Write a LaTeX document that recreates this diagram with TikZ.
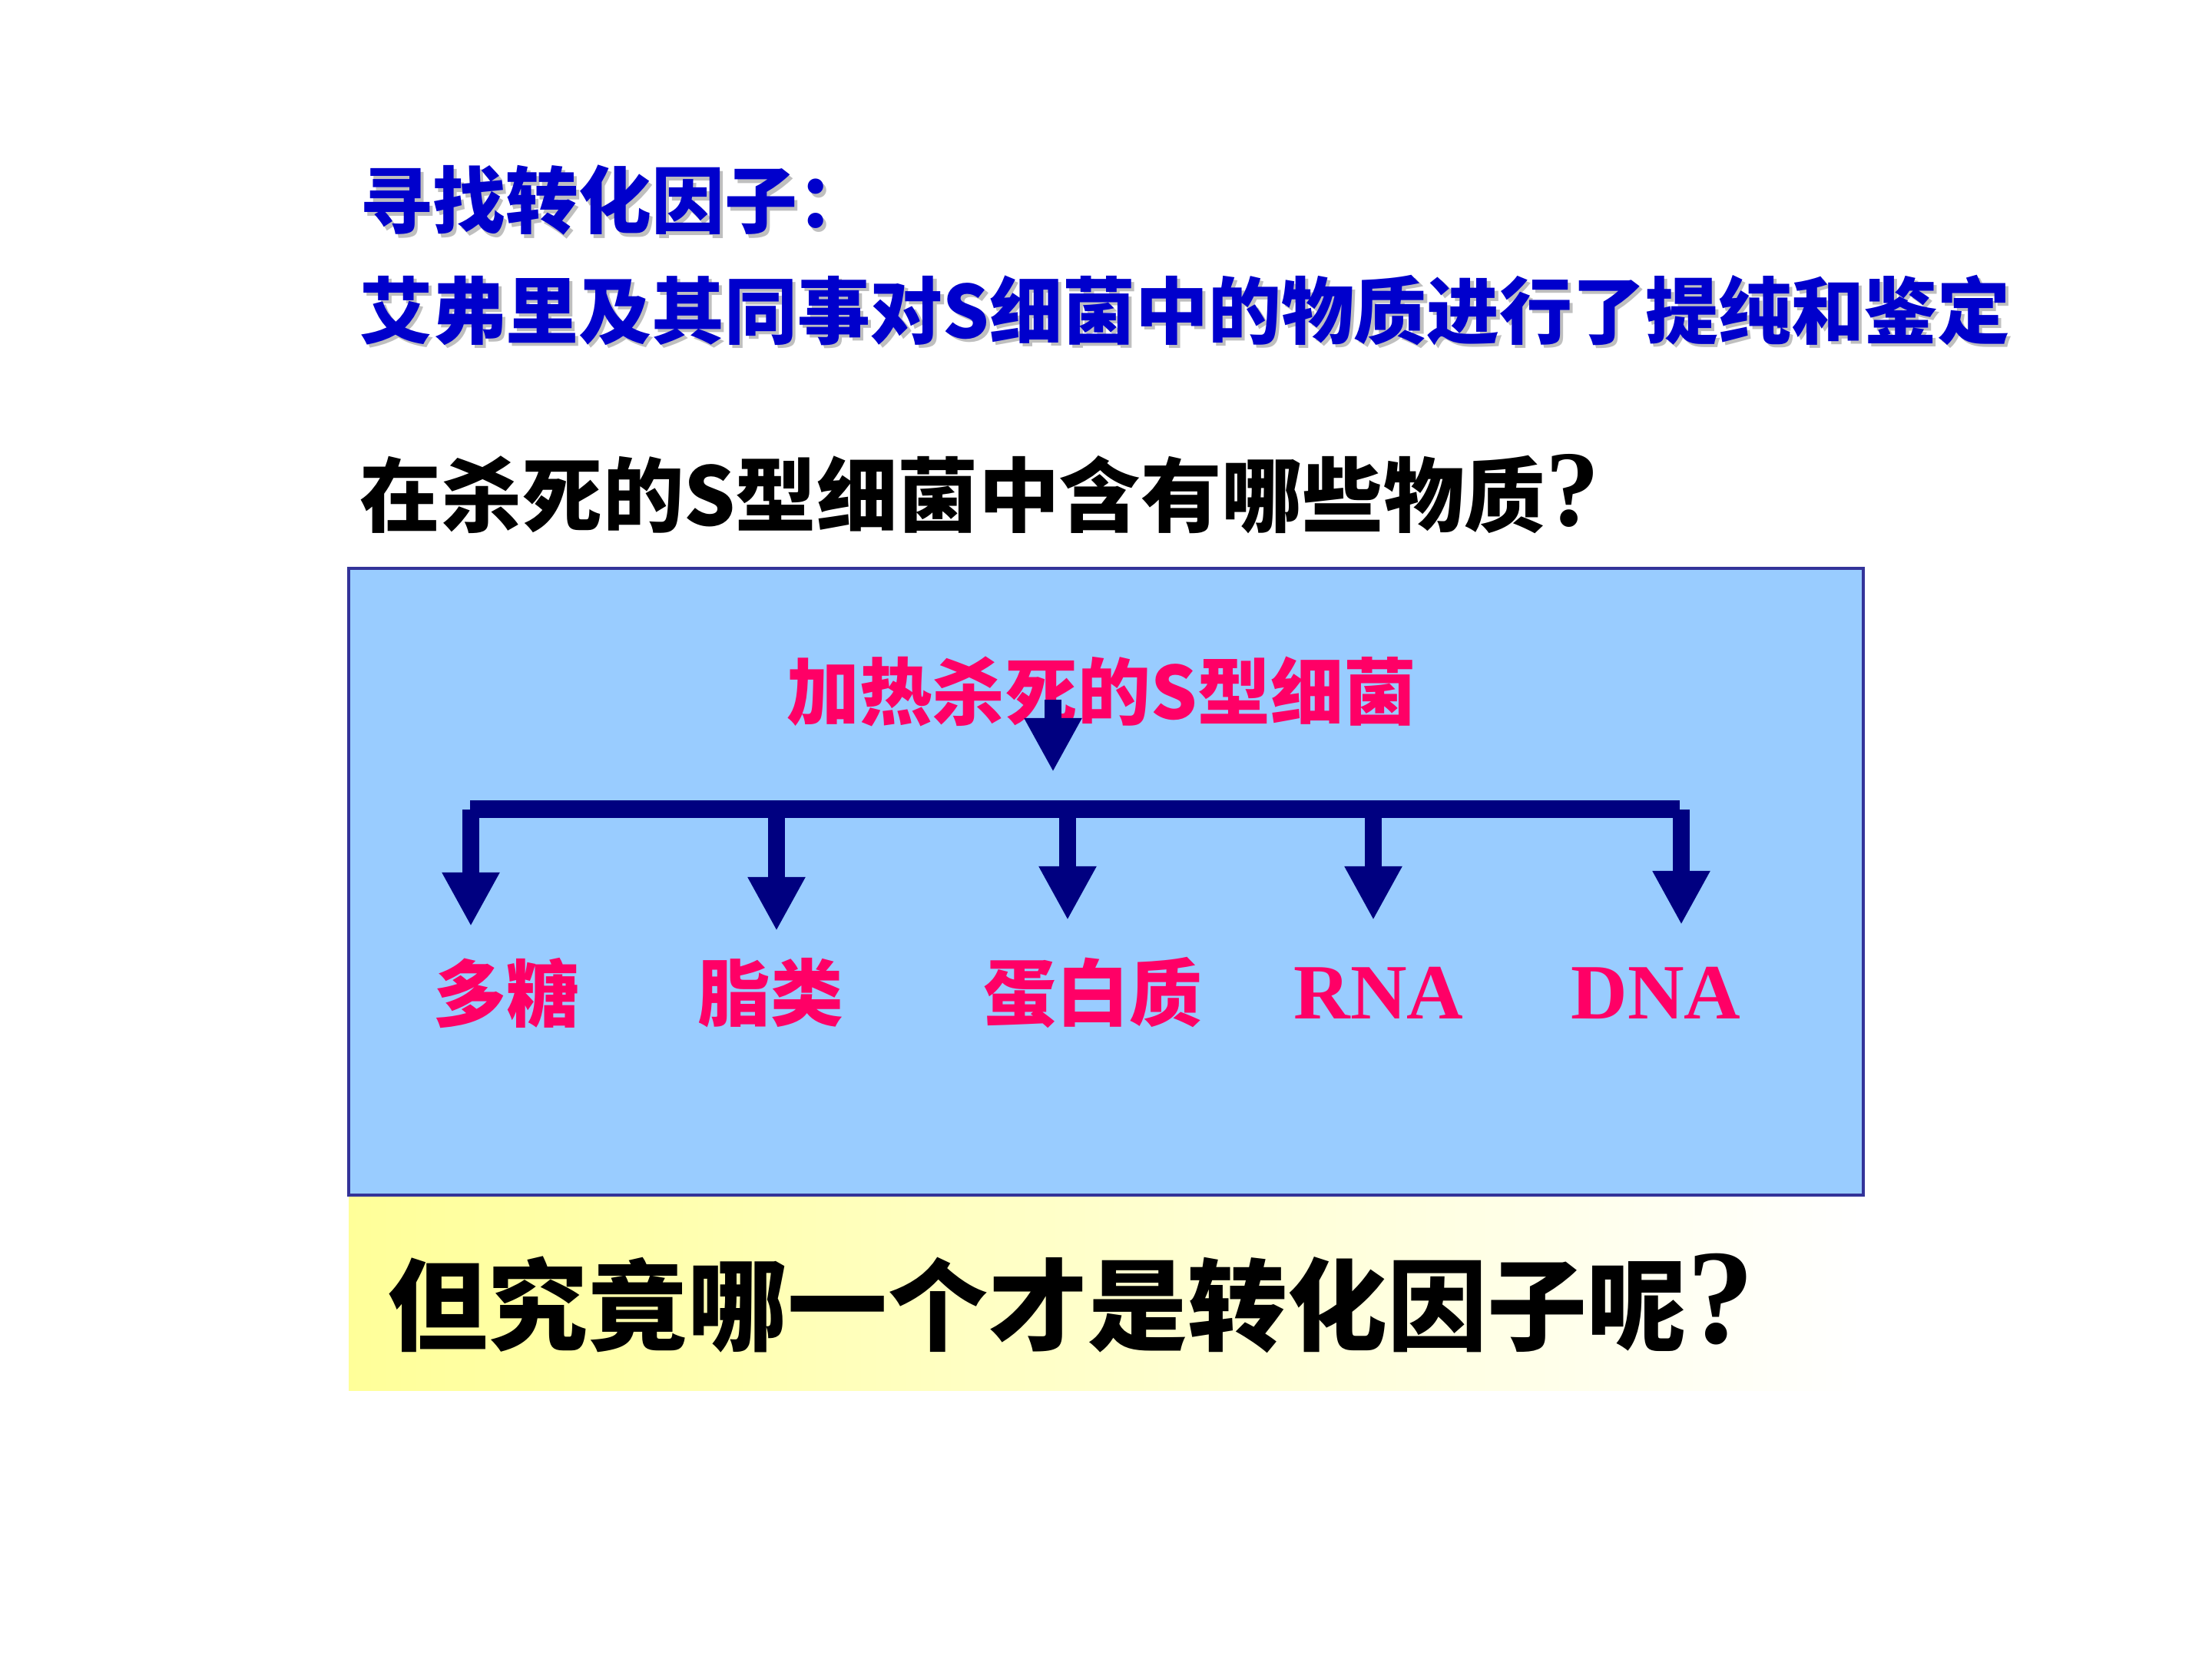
\documentclass[tikz,border=0pt]{standalone}
\usepackage{fontspec}
\newfontfamily\cjk{Noto Sans CJK SC}
\newfontfamily\tms{Liberation Serif}
\usepackage{tikz}
\usetikzlibrary{arrows.meta,positioning}
\usepackage{xcolor}

\definecolor{slideblue}{RGB}{0,0,204}
\definecolor{panelblue}{RGB}{153,204,255}
\definecolor{panelline}{RGB}{51,51,153}
\definecolor{bandyellow}{RGB}{255,255,153}
\definecolor{itemred}{RGB}{255,0,102}
\definecolor{arrownavy}{RGB}{0,0,128}

% light drop shadow behind the blue heading
\newcommand{\castshadow}[1]{\leavevmode\rlap{\kern1.2pt\raisebox{-1.2pt}{\color{black!25}#1}}#1}

\begin{document}
\begin{tikzpicture}[
    every node/.style={inner sep=0pt},
    title/.style={font=\cjk\bfseries\fontsize{27}{32}\selectfont, text=slideblue, anchor=west},
    question/.style={font=\cjk\bfseries\fontsize{30}{36}\selectfont, anchor=west},
    panel/.style={draw=panelline, line width=1.2pt, fill=panelblue, minimum width=19.72cm, minimum height=8.16cm},
    band/.style={left color=bandyellow, right color=white, minimum width=19.72cm, minimum height=2.52cm},
    item/.style={font=\cjk\bfseries\fontsize{27}{32}\selectfont, text=itemred},
    acid/.style={font=\tms\bfseries\fontsize{29}{34}\selectfont, text=itemred},
    bar/.style={draw=arrownavy, line width=0.23cm},
    branch/.style={draw=arrownavy, line width=0.22cm, -{Triangle[length=0.7cm,width=0.7cm]}}
]
\useasboundingbox (0,0) rectangle (28.8,21.6);

% Heading
\node[title] (find) at (4.68,18.97) {\castshadow{寻找转化因子：}};
\node[title] (avery) at (4.68,17.54) {\castshadow{艾弗里及其同事对S细菌中的物质进行了提纯和鉴定}};
\node[question] (ask) at (4.68,15.17) {在杀死的S型细菌中含有哪些物质{\tms\fontsize{40}{40}\selectfont ?}};

% Blue panel and yellow band
\node[panel] (panel) at (14.40,10.12) {};
\node[band, below=0pt of panel] (band) {};

% Source and products
\node[item] (heated) at (14.34,12.60) {加热杀死的S型细菌};
\node[item] (sugar) at (6.59,8.67) {多糖};
\node[item] (lipid) at (10.03,8.67) {脂类};
\node[item] (protein) at (14.23,8.67) {蛋白质};
\node[acid] (rna) at (17.95,8.67) {RNA};
\node[acid] (dna) at (21.56,8.67) {DNA};

% Branching arrows
\coordinate (top) at (13.71,12.49);
\coordinate (hub) at (13.71,11.55);
\coordinate (barl) at (6.12,11.06);
\coordinate (barr) at (21.87,11.06);
\draw[branch] (top) -- (hub);
\draw[bar] (barl) -- (barr);
\draw[branch] (6.13,11.06) -- (6.13,9.54);
\draw[branch] (10.11,11.06) -- (10.11,9.48);
\draw[branch] (13.90,11.06) -- (13.90,9.62);
\draw[branch] (17.88,11.06) -- (17.88,9.62);
\draw[branch] (21.89,11.06) -- (21.89,9.56);

% Closing question
\node[font=\cjk\bfseries\fontsize{37}{44}\selectfont] (which) at (13.95,4.63) {但究竟哪一个才是转化因子呢{\tms\fontsize{50}{50}\selectfont ?}};

\end{tikzpicture}
\end{document}
